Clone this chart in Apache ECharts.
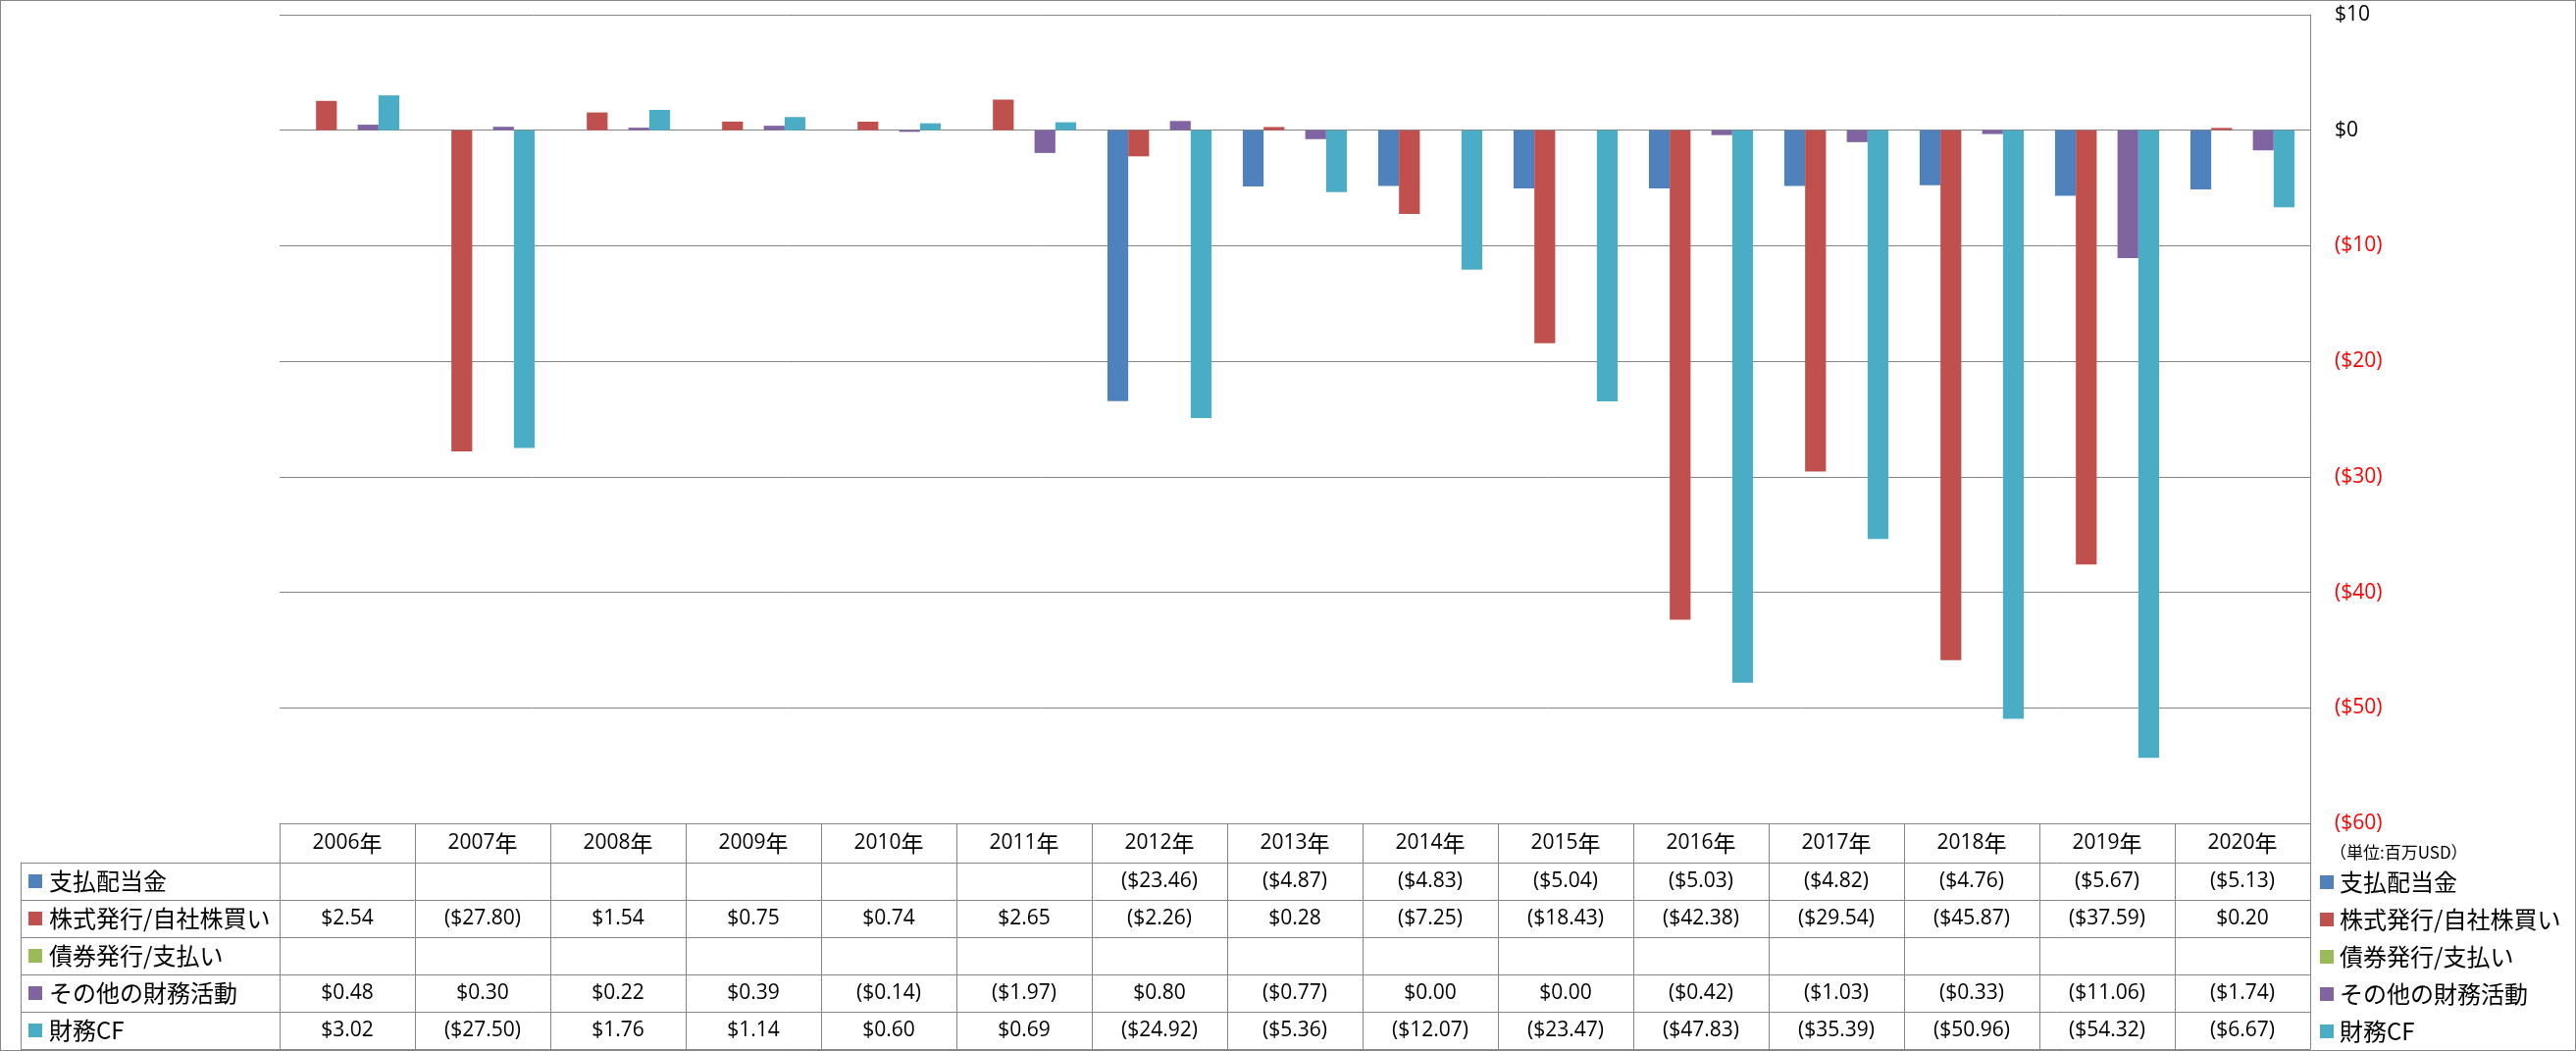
<!DOCTYPE html>
<html>
<head>
<meta charset="utf-8">
<script src="https://cdn.jsdelivr.net/npm/echarts@6/dist/echarts.min.js"></script>
<style>
html,body{margin:0;padding:0;background:#fff;}
#wrap{position:relative;width:2626px;height:1071px;}
#chart{position:absolute;left:0;top:0;width:2626px;height:1071px;}
#frame{position:absolute;left:0;top:0;width:2626px;height:1071px;box-sizing:border-box;border:1px solid #868686;pointer-events:none;}
</style>
</head>
<body>
<div id="wrap"><div id="chart"></div><div id="frame"></div></div>
<script>
// ---- data ----
const years = ['2006','2007','2008','2009','2010','2011','2012','2013','2014','2015','2016','2017','2018','2019','2020'];
const seriesNames = ['支払配当金','株式発行/自社株買い','債券発行/支払い','その他の財務活動','財務CF'];
const dividends     = [null, null, null, null, null, null, -23.46, -4.87, -4.83, -5.04, -5.03, -4.82, -4.76, -5.67, -5.13];
const stockIssuance = [2.54, -27.80, 1.54, 0.75, 0.74, 2.65, -2.26, 0.28, -7.25, -18.43, -42.38, -29.54, -45.87, -37.59, 0.20];
const debtIssuance  = [null, null, null, null, null, null, null, null, null, null, null, null, null, null, null];
const otherFinance  = [0.48, 0.30, 0.22, 0.39, -0.14, -1.97, 0.80, -0.77, 0.00, 0.00, -0.42, -1.03, -0.33, -11.06, -1.74];
const financingCF   = [3.02, -27.50, 1.76, 1.14, 0.60, 0.69, -24.92, -5.36, -12.07, -23.47, -47.83, -35.39, -50.96, -54.32, -6.67];
const yMin = -60, yMax = 10, yStep = 10;
const unitLabel = '（単位:百万USD）';

// ---- styles ----
const colors = ['#4F81BD','#C0504D','#9BBB59','#8064A2','#4BACC6'];
const lineColor = '#868686';
const numFont = '"Open Sans", "Noto Sans CJK JP", sans-serif';
const cjkFont = '"Noto Sans CJK JP", "Open Sans", sans-serif';
const rows = [dividends, stockIssuance, debtIssuance, otherFinance, financingCF];

function money(v){
  if (v === null || v === undefined) return '';
  const s = '$' + Math.abs(v).toFixed(2);
  return v < 0 ? '(' + s + ')' : s;
}

const chart = echarts.init(document.getElementById('chart'), null, {renderer:'canvas'});

const xAxes = [];
// header row (years)
xAxes.push({
  type:'category', gridIndex:0, data:years, position:'bottom', offset:0,
  axisLine:{show:true, onZero:false, lineStyle:{color:lineColor, width:1}},
  axisTick:{show:true, interval:0, length:40, lineStyle:{color:lineColor, width:1}},
  axisLabel:{interval:0, margin:0, formatter:(v)=>'{n|'+v+'}{k|年}',
    rich:{n:{fontFamily:numFont, fontSize:21, color:'#000', lineHeight:40},
          k:{fontFamily:cjkFont, fontSize:23, color:'#000', lineHeight:40}}},
  splitLine:{show:false}
});
// data rows
rows.forEach((arr, k)=>{
  xAxes.push({
    type:'category', gridIndex:0, data:years, position:'bottom', offset:40 + 38*k,
    axisLine:{show:true, onZero:false, lineStyle:{color:lineColor, width:1}},
    axisTick:{show:true, interval:0, length:38, lineStyle:{color:lineColor, width:1}},
    axisLabel:{interval:0, margin:0, fontFamily:numFont, fontSize:21, color:'#000', lineHeight:38,
      formatter:(v, i)=>money(arr[i])},
    splitLine:{show:false}
  });
});
// bottom border of table
xAxes.push({
  type:'category', gridIndex:0, data:years, position:'bottom', offset:40 + 38*5,
  axisLine:{show:true, onZero:false, lineStyle:{color:lineColor, width:1}},
  axisTick:{show:false}, axisLabel:{show:false}, splitLine:{show:false}
});
// key column grid x axis
xAxes.push({type:'value', gridIndex:1, show:false, min:0, max:1});

const richKey = {t:{fontFamily:cjkFont, fontSize:24, color:'#000', padding:[0,0,0,7]}};
colors.forEach((c,i)=>{ richKey['s'+i] = {width:14, height:14, backgroundColor:c}; });

const option = {
  animation:false,
  backgroundColor:'#fff',
  title:{
    text:unitLabel, left:2370, top:855,
    textStyle:{fontFamily:cjkFont, fontSize:17, fontWeight:'normal', color:'#000'}
  },
  legend:{
    orient:'vertical', left:2365, top:887, padding:0, height:180,
    data:seriesNames, icon:'rect', itemWidth:14, itemHeight:14, itemGap:14,
    selectedMode:false,
    textStyle:{fontFamily:cjkFont, fontSize:24, lineHeight:24, color:'#000', padding:[0,0,0,1]}
  },
  grid:[
    {left:285, right:271, top:15, bottom:232, containLabel:false},
    {left:21, top:879, width:264, height:190, containLabel:false}
  ],
  xAxis:xAxes,
  yAxis:[
    {
      type:'value', gridIndex:0, position:'right', min:yMin, max:yMax, interval:yStep,
      axisLine:{show:true, lineStyle:{color:lineColor, width:1}},
      axisTick:{show:false},
      splitLine:{show:true, lineStyle:{color:lineColor, width:1}},
      axisLabel:{margin:25, fontFamily:numFont, fontSize:21,
        color:(v)=> (Number(v) < 0 ? '#FF0000' : '#000000'),
        formatter:(v)=> v < 0 ? '($' + (-v) + ')' : '$' + v}
    },
    {
      type:'category', gridIndex:1, data:seriesNames, inverse:true, position:'left',
      axisLine:{show:true, lineStyle:{color:lineColor, width:1}},
      axisTick:{show:false},
      splitLine:{show:true, interval:0, lineStyle:{color:lineColor, width:1}},
      axisLabel:{inside:true, margin:8, interval:0,
        formatter:(v, i)=>'{s'+i+'|}{t|'+v+'}', rich:richKey}
    }
  ],
  series: rows.map((arr, i)=>({
    name:seriesNames[i], type:'bar', xAxisIndex:0, yAxisIndex:0,
    data:arr, barGap:'0%', barCategoryGap:'23.08%',
    itemStyle:{color:colors[i]}
  }))
};
chart.setOption(option);
</script>
</body>
</html>
